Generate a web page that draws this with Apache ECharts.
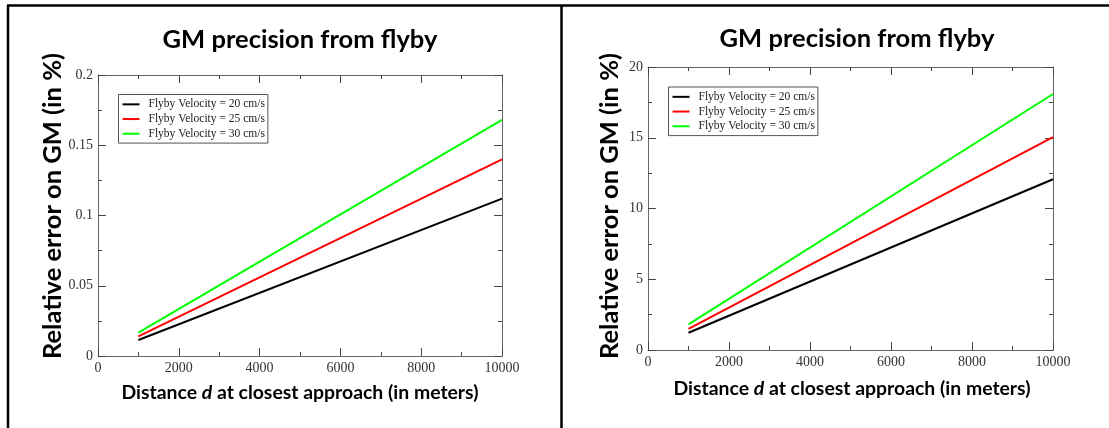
<!DOCTYPE html>
<html>
<head>
<meta charset="utf-8">
<script src="https://cdn.jsdelivr.net/npm/echarts@6/dist/echarts.min.js"></script>
<style>
  html, body { margin: 0; padding: 0; background: #fff; }
  #chart { width: 1109px; height: 428px; }
</style>
</head>
<body>
<div id="chart"></div>
<script>
// Distance at closest approach (m)
const distance = [1000, 10000];
const seriesNames = ['Flyby Velocity = 20 cm/s', 'Flyby Velocity = 25 cm/s', 'Flyby Velocity = 30 cm/s'];
const seriesColors = ['#000000', '#ff0000', '#00ff00'];

// Left panel: relative error on GM (in %)
const errLeft20 = [0.0114, 0.112];
const errLeft25 = [0.0140, 0.140];
const errLeft30 = [0.0166, 0.168];

// Right panel: relative error on GM (in %)
const errRight20 = [1.22, 12.07];
const errRight25 = [1.50, 15.05];
const errRight30 = [1.81, 18.09];

const xTicks = [0, 2000, 4000, 6000, 8000, 10000];
const yTicksLeft = [0, 0.05, 0.1, 0.15, 0.2];
const yTicksRight = [0, 5, 10, 15, 20];

const titleText = 'GM precision from flyby';
const yTitleText = 'Relative error on GM (in %)';

const frameColor = '#666';
const labelFont = '"Liberation Serif", "DejaVu Serif", serif';
const sansFont = 'Lato, "Open Sans", sans-serif';

function pair(xs, ys) { return xs.map((x, i) => [x, ys[i]]); }
function plain(v) { return String(+v.toFixed(4)); }

const panels = [
  { grid: { left: 98, top: 75, width: 404, height: 281 }, yTicks: yTicksLeft,
    data: [errLeft20, errLeft25, errLeft30], legend: { left: 118.5, top: 94.5 },
    titleX: 300, titleY: 40, yTitleX: 53, yTitleY: 206, xTitleX: 300, xTitleY: 393 },
  { grid: { left: 648, top: 67, width: 405, height: 283 }, yTicks: yTicksRight,
    data: [errRight20, errRight25, errRight30], legend: { left: 668.5, top: 87 },
    titleX: 857, titleY: 39, yTitleX: 610, yTitleY: 206, xTitleX: 852, xTitleY: 389 }
];

const grids = [], xAxes = [], yAxes = [], series = [], legends = [], titles = [], graphics = [];

function axisStyle() {
  return {
    axisLine: { show: true, onZero: false, lineStyle: { color: frameColor, width: 1 } },
    axisTick: { show: true, inside: true, length: 8, lineStyle: { color: '#444', width: 1 } },
    minorTick: { show: true, splitNumber: 2, length: 4, lineStyle: { color: '#444', width: 1 } },
    splitLine: { show: false }
  };
}

panels.forEach((p, gi) => {
  grids.push(Object.assign({ containLabel: false }, p.grid));
  const yMin = p.yTicks[0], yMax = p.yTicks[p.yTicks.length - 1];
  const yInterval = p.yTicks[1] - p.yTicks[0];
  const xInterval = xTicks[1] - xTicks[0];
  const shownLabel = { show: true, margin: 5, color: '#333', fontFamily: labelFont, fontSize: 14, formatter: plain };
  // bottom + mirrored top x axes
  xAxes.push(Object.assign({
    type: 'value', gridIndex: gi, position: 'bottom',
    min: xTicks[0], max: xTicks[xTicks.length - 1], interval: xInterval,
    axisLabel: shownLabel
  }, axisStyle()));
  xAxes.push(Object.assign({
    type: 'value', gridIndex: gi, position: 'top',
    min: xTicks[0], max: xTicks[xTicks.length - 1], interval: xInterval,
    axisLabel: { show: false }
  }, axisStyle()));
  // left + mirrored right y axes
  yAxes.push(Object.assign({
    type: 'value', gridIndex: gi, position: 'left',
    min: yMin, max: yMax, interval: yInterval,
    axisLabel: shownLabel
  }, axisStyle()));
  yAxes.push(Object.assign({
    type: 'value', gridIndex: gi, position: 'right',
    min: yMin, max: yMax, interval: yInterval,
    axisLabel: { show: false }
  }, axisStyle()));

  p.data.forEach((vals, si) => {
    series.push({
      type: 'line', name: seriesNames[si],
      xAxisIndex: gi * 2, yAxisIndex: gi * 2,
      data: pair(distance, vals),
      showSymbol: false, symbol: 'none', silent: true, animation: false,
      lineStyle: { color: seriesColors[si], width: 2 },
      itemStyle: { color: seriesColors[si] }
    });
  });

  legends.push({
    orient: 'vertical', left: p.legend.left, top: p.legend.top,
    data: seriesNames, icon: 'rect', itemWidth: 17, itemHeight: 2, itemGap: 0,
    padding: [2.5, 3, 2, 4],
    borderColor: '#555', borderWidth: 1, backgroundColor: '#fff',
    selectedMode: false,
    textStyle: { fontFamily: labelFont, fontSize: 11.5, color: '#222', lineHeight: 14.7, padding: [0, 0, 0, 4] }
  });

  titles.push({
    text: titleText, left: p.titleX, top: p.titleY - 13, textAlign: 'center', padding: 0,
    textStyle: { fontFamily: sansFont, fontWeight: 'bold', fontSize: 25.5, color: '#000' }
  });

  graphics.push({
    type: 'text', x: p.yTitleX, y: p.yTitleY, rotation: Math.PI / 2,
    style: { text: yTitleText, font: 'bold 25.5px ' + sansFont, fill: '#000',
             align: 'center', verticalAlign: 'middle' }
  });
  graphics.push({
    type: 'text', x: p.xTitleX, y: p.xTitleY,
    style: {
      text: '{n|Distance }{i|d}{n| at closest approach (in meters)}',
      align: 'center', verticalAlign: 'middle',
      rich: {
        n: { font: 'bold 19.4px ' + sansFont, fill: '#000' },
        i: { font: 'italic bold 19.4px ' + sansFont, fill: '#000' }
      }
    }
  });
});

// panel frame: left edge, top edge and divider
graphics.push({ type: 'line', shape: { x1: 8, y1: 5.5, x2: 8, y2: 428 }, style: { stroke: '#000', lineWidth: 2.5 } });
graphics.push({ type: 'line', shape: { x1: 7, y1: 5.5, x2: 1109, y2: 5.5 }, style: { stroke: '#000', lineWidth: 2.5 } });
graphics.push({ type: 'line', shape: { x1: 561.5, y1: 5.5, x2: 561.5, y2: 428 }, style: { stroke: '#000', lineWidth: 2.5 } });

const chart = echarts.init(document.getElementById('chart'), null, { renderer: 'canvas' });
chart.setOption({
  animation: false,
  backgroundColor: '#fff',
  title: titles,
  grid: grids,
  xAxis: xAxes,
  yAxis: yAxes,
  legend: legends,
  series: series,
  graphic: graphics
});
</script>
</body>
</html>
